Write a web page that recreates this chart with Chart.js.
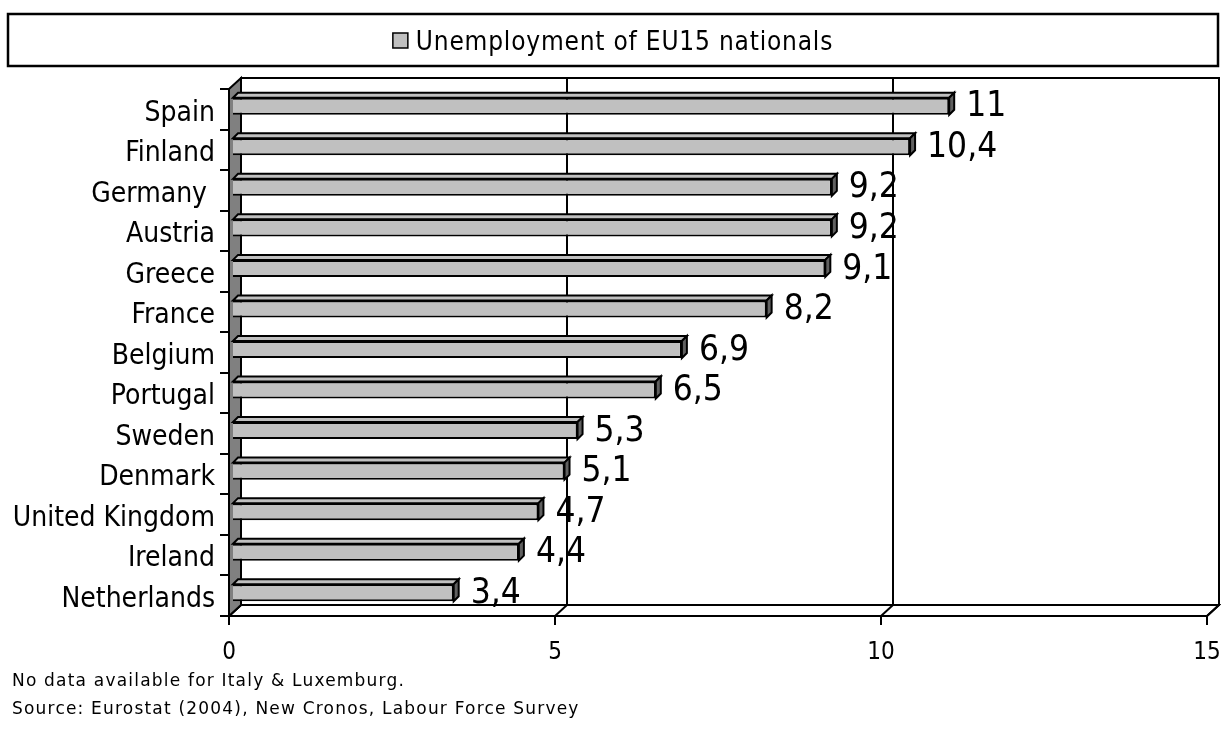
<!DOCTYPE html>
<html>
<head>
<meta charset="utf-8">
<script src="https://cdn.jsdelivr.net/npm/chart.js@4/dist/chart.umd.min.js"></script>
<style>
  html, body { margin: 0; padding: 0; background: #fff; }
  canvas { display: block; }
</style>
</head>
<body>
<canvas id="chart" width="1221" height="729"></canvas>
<script>
const countries = ['Spain', 'Finland', 'Germany ', 'Austria', 'Greece', 'France', 'Belgium',
  'Portugal', 'Sweden', 'Denmark', 'United Kingdom', 'Ireland', 'Netherlands'];
const unemployment = [11, 10.4, 9.2, 9.2, 9.1, 8.2, 6.9, 6.5, 5.3, 5.1, 4.7, 4.4, 3.4];
const seriesName = 'Unemployment of EU15 nationals';
const xTicks = [0, 5, 10, 15];
const notes = ['No data available for Italy & Luxemburg.',
  'Source: Eurostat (2004), New Cronos, Labour Force Survey'];

const COND = "'DejaVu Sans Condensed', 'DejaVu Sans', sans-serif";
const SANS = "'DejaVu Sans', sans-serif";
const WALL_DX = 12, WALL_DY = 11;   // depth of the 3d box
const BAR_SHIFT = 3, BAR_D = 5;      // bars sit a bit into the box

// 3d walls, floor, grid on the back wall
const box3d = {
  id: 'box3d',
  beforeDatasetsDraw(chart) {
    const { ctx, chartArea: a, scales: { x } } = chart;
    ctx.save();
    ctx.strokeStyle = '#000';
    ctx.lineWidth = 2;
    ctx.lineJoin = 'miter';
    // back wall
    ctx.fillStyle = '#fff';
    ctx.fillRect(a.left + WALL_DX, a.top - WALL_DY, a.right - a.left, a.bottom - a.top);
    ctx.strokeRect(a.left + WALL_DX, a.top - WALL_DY, a.right - a.left, a.bottom - a.top);
    // grid lines on the back wall
    xTicks.forEach(v => {
      const px = x.getPixelForValue(v);
      if (v !== xTicks[0] && v !== xTicks[xTicks.length - 1]) {
        ctx.beginPath();
        ctx.moveTo(px + WALL_DX, a.top - WALL_DY);
        ctx.lineTo(px + WALL_DX, a.bottom - WALL_DY);
        ctx.stroke();
      }
    });
    // floor
    ctx.beginPath();
    ctx.moveTo(a.left, a.bottom);
    ctx.lineTo(a.left + WALL_DX, a.bottom - WALL_DY);
    ctx.lineTo(a.right + WALL_DX, a.bottom - WALL_DY);
    ctx.lineTo(a.right, a.bottom);
    ctx.closePath();
    ctx.fillStyle = '#fff';
    ctx.fill();
    ctx.stroke();
    xTicks.forEach(v => {
      const px = x.getPixelForValue(v);
      ctx.beginPath();
      ctx.moveTo(px, a.bottom);
      ctx.lineTo(px + WALL_DX, a.bottom - WALL_DY);
      ctx.stroke();
    });
    // left wall
    ctx.beginPath();
    ctx.moveTo(a.left, a.top);
    ctx.lineTo(a.left + WALL_DX, a.top - WALL_DY);
    ctx.lineTo(a.left + WALL_DX, a.bottom - WALL_DY);
    ctx.lineTo(a.left, a.bottom);
    ctx.closePath();
    ctx.fillStyle = '#808080';
    ctx.fill();
    ctx.stroke();
    ctx.restore();
  },
  beforeDatasetDraw(chart) {
    chart.ctx.save();
    chart.ctx.translate(BAR_SHIFT, -BAR_SHIFT);
  },
  afterDatasetDraw(chart, args) {
    const ctx = chart.ctx;
    ctx.strokeStyle = '#000';
    ctx.lineWidth = 2;
    args.meta.data.forEach(el => {
      const p = el.getProps(['x', 'y', 'base', 'height'], true);
      const top = p.y - p.height / 2, bot = p.y + p.height / 2;
      // top face
      ctx.beginPath();
      ctx.moveTo(p.base, top);
      ctx.lineTo(p.base + BAR_D, top - BAR_D);
      ctx.lineTo(p.x + BAR_D, top - BAR_D);
      ctx.lineTo(p.x, top);
      ctx.closePath();
      ctx.fillStyle = '#c0c0c0';
      ctx.fill();
      ctx.stroke();
      // side face
      ctx.beginPath();
      ctx.moveTo(p.x, top);
      ctx.lineTo(p.x + BAR_D, top - BAR_D);
      ctx.lineTo(p.x + BAR_D, bot - BAR_D);
      ctx.lineTo(p.x, bot);
      ctx.closePath();
      ctx.fillStyle = '#606060';
      ctx.fill();
      ctx.stroke();
    });
    ctx.restore();
  },
  afterDatasetsDraw(chart) {
    const ctx = chart.ctx;
    const meta = chart.getDatasetMeta(0);
    ctx.save();
    ctx.fillStyle = '#000';
    ctx.font = '35px ' + COND;
    ctx.textAlign = 'left';
    ctx.textBaseline = 'middle';
    meta.data.forEach((el, i) => {
      const p = el.getProps(['x', 'y'], true);
      const txt = String(unemployment[i]).replace('.', ',');
      ctx.fillText(txt, p.x + BAR_SHIFT + BAR_D + 12, p.y - BAR_SHIFT + 1);
    });
    ctx.restore();
  },
  afterDraw(chart) {
    const ctx = chart.ctx;
    ctx.save();
    // legend frame
    ctx.strokeStyle = '#000';
    ctx.lineWidth = 2.5;
    ctx.strokeRect(8, 14, 1210, 52);
    ctx.font = '26px ' + COND;
    ctx.letterSpacing = '0.8px';
    const tw = ctx.measureText(seriesName).width;
    const mk = 15, gap = 8;
    const x0 = 8 + (1210 - (mk + gap + tw)) / 2;
    ctx.fillStyle = '#c0c0c0';
    ctx.fillRect(x0, 33, mk, mk);
    ctx.lineWidth = 1.5;
    ctx.strokeRect(x0, 33, mk, mk);
    ctx.fillStyle = '#000';
    ctx.textBaseline = 'alphabetic';
    ctx.fillText(seriesName, x0 + mk + gap, 50);
    // footnotes
    ctx.font = '17px ' + SANS;
    ctx.letterSpacing = '1.2px';
    ctx.fillText(notes[0], 12, 686);
    ctx.fillText(notes[1], 12, 714);
    ctx.restore();
  }
};

new Chart(document.getElementById('chart'), {
  type: 'bar',
  data: {
    labels: countries,
    datasets: [{
      label: seriesName,
      data: unemployment,
      backgroundColor: '#c0c0c0',
      borderColor: '#000',
      borderWidth: 2,
      barPercentage: 0.42,
      categoryPercentage: 1
    }]
  },
  options: {
    indexAxis: 'y',
    responsive: false,
    animation: false,
    devicePixelRatio: 1,
    layout: { padding: { top: 89, right: 0, bottom: 0, left: 0 } },
    plugins: {
      legend: { display: false },
      tooltip: { enabled: false }
    },
    scales: {
      x: {
        min: 0,
        max: 15,
        ticks: { stepSize: 5, color: '#000', padding: 13, font: { family: COND, size: 24 } },
        grid: { drawOnChartArea: false, tickLength: 9, color: '#000', lineWidth: 2 },
        border: { display: false },
        afterFit(s) { s.height = 113; s.paddingRight = 14; s.paddingLeft = 0; }
      },
      y: {
        ticks: { color: '#000', padding: 5, labelOffset: 4, font: { family: COND, size: 28 } },
        grid: { drawOnChartArea: false, tickLength: 9, color: '#000', lineWidth: 2 },
        border: { display: false },
        afterFit(s) { s.width = 229; }
      }
    }
  },
  plugins: [box3d]
});
</script>
</body>
</html>
